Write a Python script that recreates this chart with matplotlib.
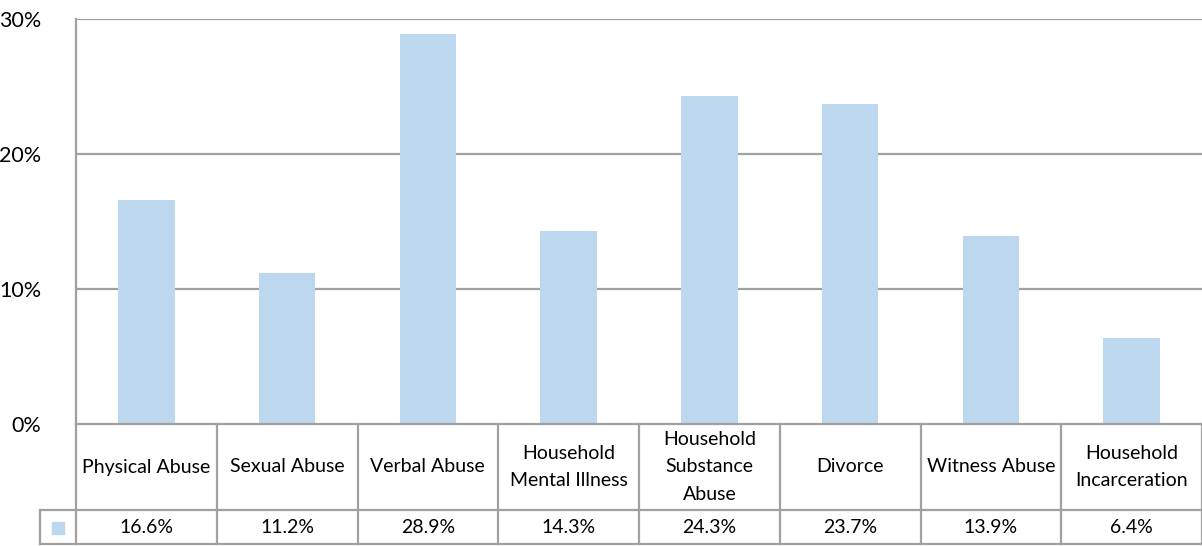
import matplotlib.pyplot as plt
from matplotlib.lines import Line2D
from matplotlib.patches import Rectangle

categories = ["Physical Abuse", "Sexual Abuse", "Verbal Abuse",
              "Household\nMental Illness", "Household\nSubstance\nAbuse",
              "Divorce", "Witness Abuse", "Household\nIncarceration"]
values = [16.6, 11.2, 28.9, 14.3, 24.3, 23.7, 13.9, 6.4]
y_ticks = [0, 10, 20, 30]

BAR = "#BDD7EE"
GRID = "#A0A0A0"
plt.rcParams["font.family"] = ["Lato", "DejaVu Sans"]

W, H = 1202, 546
fig = plt.figure(figsize=(W / 100, H / 100), dpi=100)

# main bar area
left, right, top, zero = 76, 1202, 19, 424
ax = fig.add_axes([left / W, (H - zero) / H, (right - left) / W, (zero - top) / H])
x = list(range(len(values)))
ax.bar(x, values, width=0.4, color=BAR, zorder=2)
ax.set_xlim(-0.5, len(values) - 0.5)
ax.set_ylim(0, 30)
ax.set_yticks(y_ticks)
ax.set_yticklabels([f"{t}%" for t in y_ticks], fontsize=15.5)
ax.tick_params(axis="y", length=0, pad=25)
ax.set_xticks([])
for t in y_ticks[1:]:
    ax.axhline(t, color=GRID, lw=1.6, zorder=1)
for s in ["top", "right", "bottom"]:
    ax.spines[s].set_visible(False)
ax.spines["left"].set_color(GRID)
ax.spines["left"].set_linewidth(1.6)

# data table underneath
row_mid, row_bot = 510, 545
tax = fig.add_axes([left / W, (H - row_bot) / H, (right - left) / W, (row_bot - zero) / H])
tax.set_xlim(-0.5, len(values) - 0.5)
tax.set_ylim(0, row_bot - zero)
tax.invert_yaxis()
tax.axis("off")
leg_x = -0.5 - (left - 40) / ((right - left) / len(values))
kw = dict(color=GRID, lw=1.6, clip_on=False)
tax.add_line(Line2D([-0.5, len(values) - 0.5], [0, 0], **kw))
tax.add_line(Line2D([leg_x, len(values) - 0.5], [row_mid - zero] * 2, **kw))
tax.add_line(Line2D([leg_x, len(values) - 0.5], [row_bot - zero - 0.8] * 2, **kw))
tax.add_line(Line2D([leg_x, leg_x], [row_mid - zero, row_bot - zero - 0.8], **kw))
for i in range(len(values) + 1):
    tax.add_line(Line2D([i - 0.5, i - 0.5], [0, row_bot - zero - 0.8], **kw))
for i, (c, v) in enumerate(zip(categories, values)):
    tax.text(i, (row_mid - zero) / 2, c, ha="center", va="center",
             fontsize=14, linespacing=1.75)
    tax.text(i, (row_mid + row_bot) / 2 - zero, f"{v}%", ha="center",
             va="center", fontsize=14)
tax.add_patch(Rectangle(((leg_x - 0.5) / 2 - 0.04, (row_mid + row_bot) / 2 - zero - 6),
                        0.08, 12, color=BAR, clip_on=False))

fig.savefig("out.png", dpi=100)
